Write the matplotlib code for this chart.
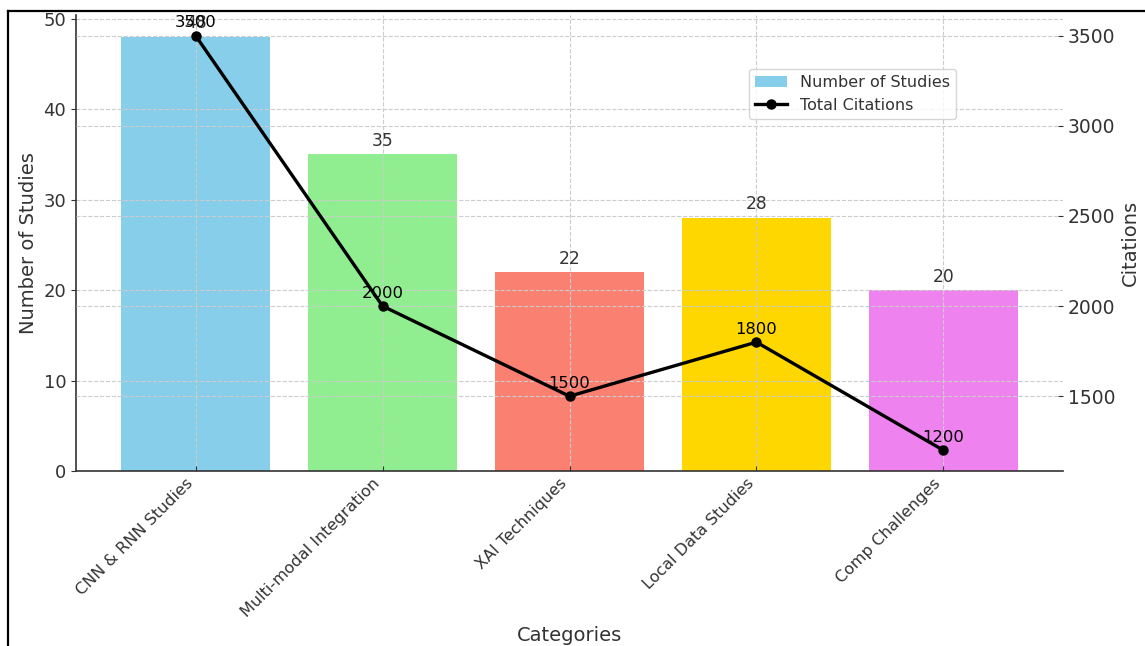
import matplotlib
matplotlib.use("Agg")
import matplotlib.pyplot as plt
from matplotlib.lines import Line2D

categories = ["CNN & RNN Studies", "Multi-modal Integration", "XAI Techniques",
              "Local Data Studies", "Comp Challenges"]
num_studies = [48, 35, 22, 28, 20]
citations = [3500, 2000, 1500, 1800, 1200]
bar_colors = ["skyblue", "lightgreen", "salmon", "gold", "violet"]

TXT = "#333333"
plt.rcParams["text.color"] = TXT
plt.rcParams["axes.labelcolor"] = TXT
plt.rcParams["xtick.color"] = TXT
plt.rcParams["ytick.color"] = TXT

fig = plt.figure(figsize=(11.45, 6.46), dpi=100)
ax = fig.add_axes([76/1145, 1 - 471/646, (1063-76)/1145, (471-15)/646])

x = list(range(len(categories)))
bars = ax.bar(x, num_studies, color=bar_colors, width=0.8, label="Number of Studies")
ax.set_xticks(x)
ax.set_xticklabels(categories, rotation=45, ha="right", fontsize=11.5)
ax.set_xlabel("Categories", fontsize=14)
ax.set_ylabel("Number of Studies", fontsize=14)
ax.tick_params(axis="y", labelsize=13)
ax.tick_params(axis="x", direction="in")
ax.grid(True, linestyle="--", color="#cccccc", linewidth=0.8)
for s in ["top", "right"]:
    ax.spines[s].set_visible(False)
for s in ["left", "bottom"]:
    ax.spines[s].set_color(TXT)
    ax.spines[s].set_linewidth(1.2)

for xi, v in zip(x, num_studies):
    ax.annotate(str(v), (xi, v), xytext=(0, 6), textcoords="offset points",
                ha="center", fontsize=12.3, color=TXT)

ax2 = ax.twinx()
ln, = ax2.plot(x, citations, color="black", marker="o", linewidth=2.4,
               markersize=6.5, label="Total Citations")
ax2.set_ylabel("Citations", fontsize=14)
ax2.tick_params(axis="y", labelsize=13.5, direction="in")
ax2.grid(True, axis="y", linestyle="--", color="#cccccc", linewidth=0.8)
for s in ["top", "right", "left", "bottom"]:
    ax2.spines[s].set_visible(False)

for xi, v in zip(x, citations):
    ax2.annotate(str(v), (xi, v), xytext=(0, 6), textcoords="offset points",
                 ha="center", fontsize=11.8, color="black")

ax2.legend([bars, ln], ["Number of Studies", "Total Citations"], loc="upper right",
           bbox_to_anchor=(0.9, 0.9), fontsize=11.5)

# outer frame lines of the screenshot
fig.add_artist(Line2D([8/1145, 8/1145], [0, 1 - 11/646], transform=fig.transFigure,
                      color="black", linewidth=1.6))
fig.add_artist(Line2D([8/1145, 1], [1 - 11/646, 1 - 11/646], transform=fig.transFigure,
                      color="black", linewidth=1.6))

fig.savefig("out.png", dpi=100)
